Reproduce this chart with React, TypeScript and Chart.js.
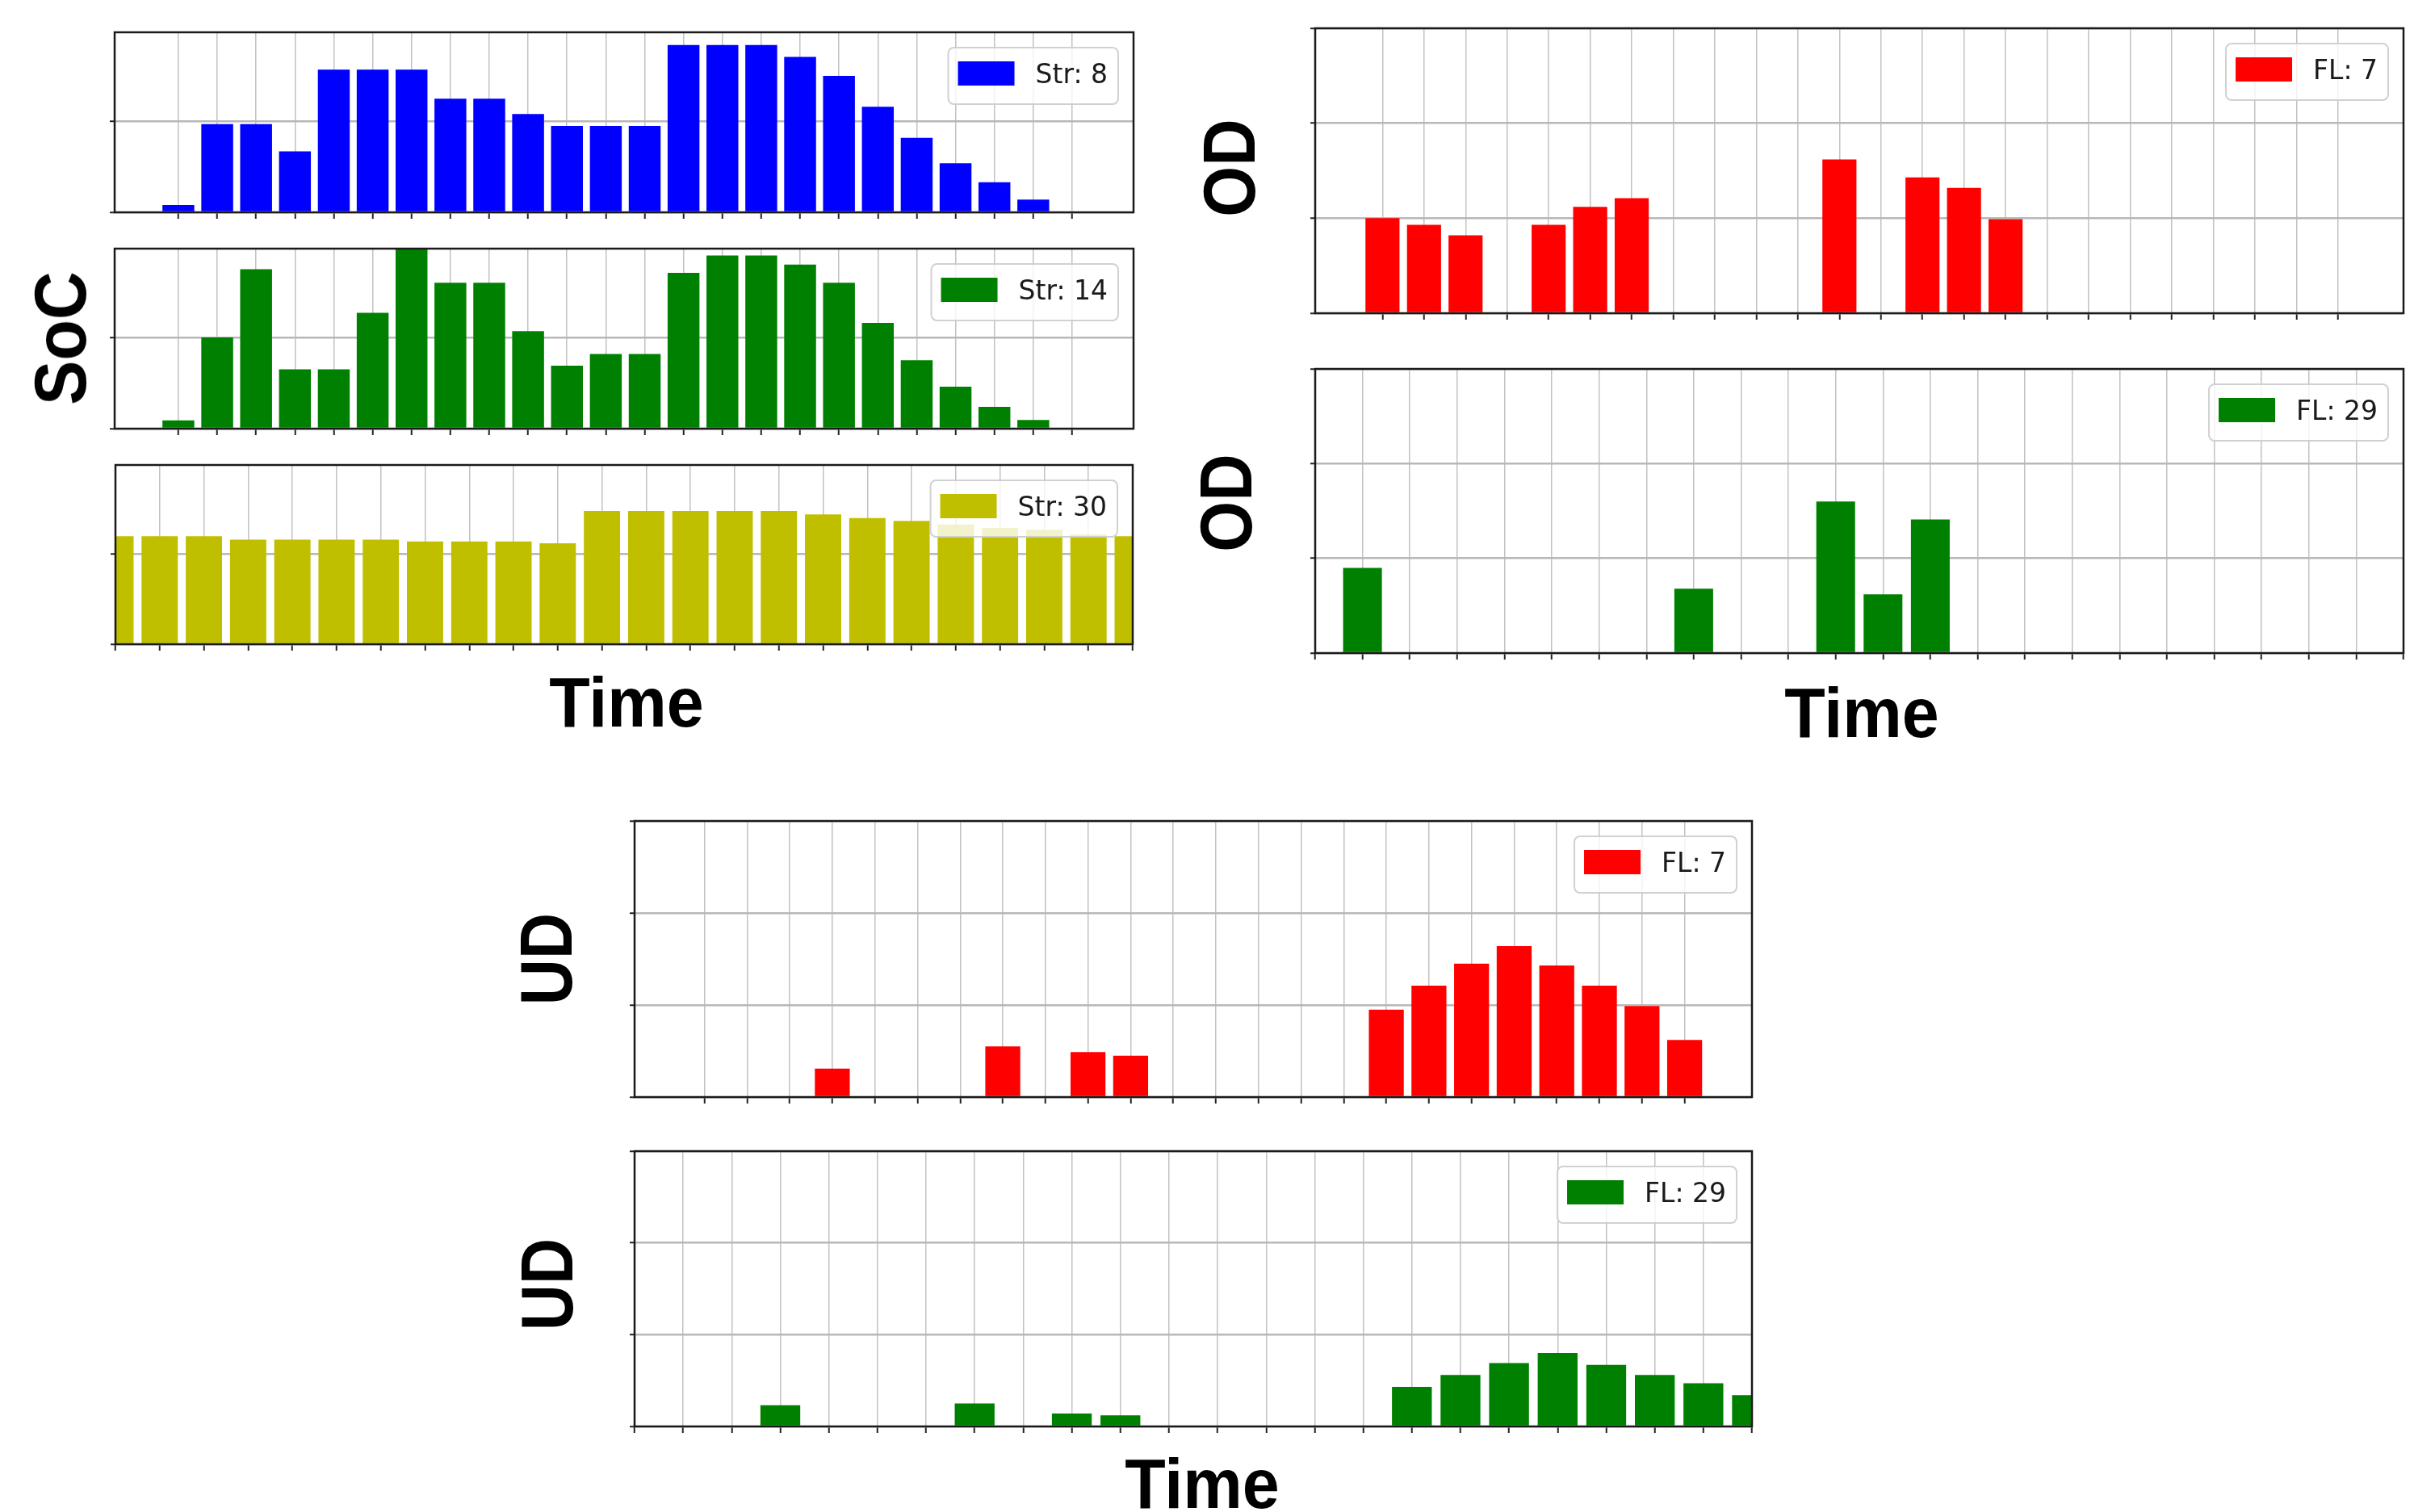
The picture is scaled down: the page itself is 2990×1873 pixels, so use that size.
import React, { useEffect, useRef } from 'react';
import { Chart, registerables } from 'chart.js';

Chart.register(...registerables);

// ---------- data ----------
const TIME_SLOTS = [0, 1, 2, 3, 4, 5, 6, 7, 8, 9, 10, 11, 12, 13, 14, 15, 16, 17, 18, 19, 20, 21, 22, 23];
const SOC_Y_TICKS = [0, 1];
const DEV_Y_TICKS = [0, 1, 2, 3];

const SOC_STR8 = [0.08, 0.97, 0.97, 0.67, 1.57, 1.57, 1.57, 1.25, 1.25, 1.08, 0.95, 0.95, 0.95, 1.84, 1.84, 1.84, 1.71, 1.5, 1.16, 0.82, 0.54, 0.33, 0.14, 0];
const SOC_STR14 = [0.09, 1.0, 1.75, 0.65, 0.65, 1.27, 1.975, 1.6, 1.6, 1.07, 0.69, 0.82, 0.82, 1.71, 1.9, 1.9, 1.8, 1.6, 1.16, 0.75, 0.46, 0.24, 0.095, 0];
const SOC_STR30 = [1.2, 1.2, 1.2, 1.16, 1.16, 1.16, 1.16, 1.14, 1.14, 1.14, 1.12, 1.48, 1.48, 1.48, 1.48, 1.48, 1.44, 1.4, 1.37, 1.33, 1.29, 1.27, 1.22, 1.2];
const OD_FL7 = [1.0, 0.93, 0.82, 0, 0.93, 1.12, 1.21, 0, 0, 0, 0, 1.62, 0, 1.43, 1.32, 0.99, 0, 0, 0, 0, 0, 0, 0, 0];
const OD_FL29 = [0, 0.9, 0, 0, 0, 0, 0, 0, 0.68, 0, 0, 1.6, 0.62, 1.41, 0, 0, 0, 0, 0, 0, 0, 0, 0, 0];
const UD_FL7 = [0, 0, 0, 0.31, 0, 0, 0, 0.55, 0, 0.49, 0.45, 0, 0, 0, 0, 0, 0.95, 1.21, 1.45, 1.64, 1.43, 1.21, 0.99, 0.62];
const UD_FL29 = [0, 0, 0, 0.23, 0, 0, 0, 0.25, 0, 0.14, 0.12, 0, 0, 0, 0, 0, 0.43, 0.56, 0.69, 0.8, 0.67, 0.56, 0.47, 0.34];

const LABEL_STR8 = 'Str: 8';
const LABEL_STR14 = 'Str: 14';
const LABEL_STR30 = 'Str: 30';
const LABEL_FL7 = 'FL: 7';
const LABEL_FL29 = 'FL: 29';

// ---------- layout ----------
const PAD = 24;

type PanelSpec = {
  id: string;
  left: number;
  top: number;
  right: number;
  bottom: number;
  values: number[];
  label: string;
  color: string;
  xMin: number;
  xMax: number;
  yMax: number;
  yTicks: number[];
};

const PANELS: PanelSpec[] = [
  { id: 'soc8', left: 142, top: 40, right: 1404, bottom: 263, values: SOC_STR8, label: LABEL_STR8, color: '#0000ff', xMin: -1.64, xMax: 24.58, yMax: 1.98, yTicks: SOC_Y_TICKS },
  { id: 'soc14', left: 142, top: 308, right: 1404, bottom: 531, values: SOC_STR14, label: LABEL_STR14, color: '#008000', xMin: -1.64, xMax: 24.58, yMax: 1.975, yTicks: SOC_Y_TICKS },
  { id: 'soc30', left: 143, top: 576, right: 1403, bottom: 798, values: SOC_STR30, label: LABEL_STR30, color: '#bfbf00', xMin: 0, xMax: 23, yMax: 1.99, yTicks: SOC_Y_TICKS },
  { id: 'od7', left: 1629, top: 35, right: 2977, bottom: 388, values: OD_FL7, label: LABEL_FL7, color: '#ff0000', xMin: -1.62, xMax: 24.58, yMax: 3, yTicks: DEV_Y_TICKS },
  { id: 'od29', left: 1629, top: 457, right: 2977, bottom: 809, values: OD_FL29, label: LABEL_FL29, color: '#008000', xMin: 0, xMax: 23, yMax: 3, yTicks: DEV_Y_TICKS },
  { id: 'ud7', left: 786, top: 1017, right: 2170, bottom: 1359, values: UD_FL7, label: LABEL_FL7, color: '#ff0000', xMin: -1.64, xMax: 24.58, yMax: 3, yTicks: DEV_Y_TICKS },
  { id: 'ud29', left: 786, top: 1426, right: 2170, bottom: 1767, values: UD_FL29, label: LABEL_FL29, color: '#008000', xMin: 0, xMax: 23, yMax: 3, yTicks: DEV_Y_TICKS },
];

type AxisLabel = { text: string; x: number; y: number; rotate: boolean; size: number; squeeze: number };

const AXIS_LABELS: AxisLabel[] = [
  { text: 'SoC', x: 75, y: 419, rotate: true, size: 90, squeeze: 0.92 },
  { text: 'OD', x: 1523, y: 208, rotate: true, size: 90, squeeze: 0.9 },
  { text: 'OD', x: 1519, y: 623, rotate: true, size: 90, squeeze: 0.9 },
  { text: 'UD', x: 677, y: 1188, rotate: true, size: 90, squeeze: 0.88 },
  { text: 'UD', x: 678, y: 1591, rotate: true, size: 90, squeeze: 0.88 },
  { text: 'Time', x: 776, y: 869, rotate: false, size: 87, squeeze: 0.95 },
  { text: 'Time', x: 2306, y: 882, rotate: false, size: 87, squeeze: 0.95 },
  { text: 'Time', x: 1489, y: 1837, rotate: false, size: 87, squeeze: 0.95 },
];

// ---------- plugin: frame + inset legend ----------
const framePlugin = {
  id: 'frameAndInsetLegend',
  afterDraw(chart: any) {
    const { ctx, chartArea: a } = chart;
    const ds = chart.data.datasets[0];
    ctx.save();

    // inset legend (upper right)
    ctx.font = '33px "DejaVu Sans", sans-serif';
    const textW = ctx.measureText(ds.label).width;
    const padL = 12, patchW = 70, patchH = 30, gap = 26, padR = 13, boxH = 70;
    const boxW = padL + patchW + gap + textW + padR;
    const bx = a.right - 19 - boxW;
    const by = a.top + 19;
    ctx.beginPath();
    if ((ctx as any).roundRect) (ctx as any).roundRect(bx, by, boxW, boxH, 7);
    else ctx.rect(bx, by, boxW, boxH);
    ctx.fillStyle = 'rgba(255,255,255,0.8)';
    ctx.fill();
    ctx.lineWidth = 2;
    ctx.strokeStyle = 'rgba(204,204,204,0.9)';
    ctx.stroke();
    ctx.fillStyle = ds.backgroundColor;
    ctx.fillRect(bx + padL, by + 17, patchW, patchH);
    ctx.fillStyle = '#1a1a1a';
    ctx.textBaseline = 'alphabetic';
    ctx.textAlign = 'left';
    ctx.fillText(ds.label, bx + padL + patchW + gap, by + 17 + patchH / 2 + 12);

    // axes frame (all four spines)
    ctx.lineWidth = 2.5;
    ctx.strokeStyle = '#1a1a1a';
    ctx.strokeRect(a.left, a.top, a.right - a.left, a.bottom - a.top);
    ctx.restore();
  },
};

function Panel({ spec }: { spec: PanelSpec }) {
  const ref = useRef<HTMLCanvasElement>(null);
  const w = spec.right - spec.left + 2 * PAD;
  const h = spec.bottom - spec.top + 2 * PAD;

  useEffect(() => {
    if (!ref.current) return;
    const chart = new Chart(ref.current, {
      type: 'bar',
      data: {
        datasets: [
          {
            label: spec.label,
            data: spec.values.map((v, i) => ({ x: TIME_SLOTS[i], y: v })),
            backgroundColor: spec.color,
            borderWidth: 0,
            clip: 0,
            categoryPercentage: 1,
            barPercentage: 0.82,
          } as any,
        ],
      },
      options: {
        animation: false,
        responsive: false,
        maintainAspectRatio: false,
        devicePixelRatio: 1,
        layout: { padding: { left: 0, top: PAD, right: PAD, bottom: 0 } },
        plugins: { legend: { display: false }, tooltip: { enabled: false } },
        scales: {
          x: {
            type: 'linear',
            min: spec.xMin,
            max: spec.xMax,
            offset: false,
            grid: {
              offset: false,
              color: '#c2c2c2',
              lineWidth: 1.5,
              drawTicks: true,
              tickLength: 8,
              tickColor: '#222222',
              tickWidth: 2,
            },
            border: { display: false },
            ticks: { display: false },
            afterBuildTicks: (s: any) => {
              s.ticks = TIME_SLOTS.map((v) => ({ value: v }));
            },
            afterFit: (s: any) => {
              s.height = PAD;
            },
          } as any,
          y: {
            type: 'linear',
            min: 0,
            max: spec.yMax,
            grid: {
              color: '#b8b8b8',
              lineWidth: 2.5,
              drawTicks: true,
              tickLength: 6,
              tickColor: '#222222',
              tickWidth: 2,
            },
            border: { display: false },
            ticks: { display: false },
            afterBuildTicks: (s: any) => {
              s.ticks = spec.yTicks.map((v) => ({ value: v }));
            },
            afterFit: (s: any) => {
              s.width = PAD;
            },
          } as any,
        },
      },
      plugins: [framePlugin],
    });
    return () => chart.destroy();
  }, [spec]);

  return (
    <canvas
      ref={ref}
      width={w}
      height={h}
      style={{ position: 'absolute', left: spec.left - PAD, top: spec.top - PAD, width: w, height: h }}
    />
  );
}

export default function App() {
  return (
    <div
      style={{
        position: 'fixed',
        left: 0,
        top: 0,
        width: 2990,
        height: 1873,
        overflow: 'hidden',
        background: '#ffffff',
      }}
    >
      {PANELS.map((p) => (
        <Panel key={p.id} spec={p} />
      ))}
      {AXIS_LABELS.map((l, i) => (
        <div
          key={i}
          style={{
            position: 'absolute',
            left: l.x,
            top: l.y,
            transform: `translate(-50%, -50%)${l.rotate ? ' rotate(-90deg)' : ''} scaleX(${l.squeeze})`,
            fontFamily: '"Liberation Sans", Arial, sans-serif',
            fontWeight: 'bold',
            fontSize: l.size,
            lineHeight: 1,
            whiteSpace: 'nowrap',
            color: '#000000',
          }}
        >
          {l.text}
        </div>
      ))}
    </div>
  );
}
